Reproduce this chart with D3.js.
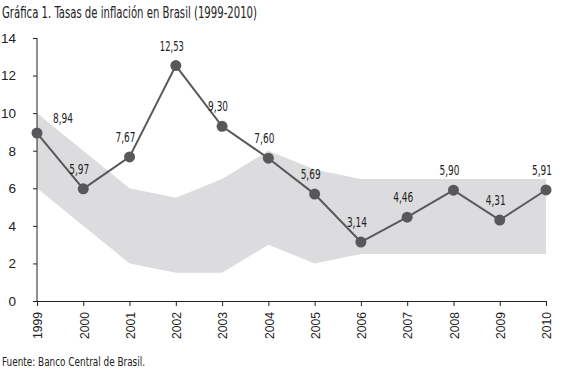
<!DOCTYPE html>
<html>
<head>
<meta charset="utf-8">
<script src="https://cdn.jsdelivr.net/npm/d3@7"></script>
<style>
  body { margin: 0; background: #fff; }
  svg { font-family: "Liberation Sans Narrow", "DejaVu Sans Condensed", sans-serif; font-stretch: condensed; }
  .axis path, .axis line { stroke: #222; }
  .axis text { fill: #222; font-size: 13.5px; }
</style>
</head>
<body>
<div id="chart"></div>
<script>
// Gráfica 1 - inflation in Brazil vs target band
const years = [1999, 2000, 2001, 2002, 2003, 2004, 2005, 2006, 2007, 2008, 2009, 2010];
const inflation = [8.94, 5.97, 7.67, 12.53, 9.30, 7.60, 5.69, 3.14, 4.46, 5.90, 4.31, 5.91];
const bandLow = [6, 4, 2, 1.5, 1.5, 3, 2, 2.5, 2.5, 2.5, 2.5, 2.5];
const bandHigh = [10, 8, 6, 5.5, 6.5, 8, 7, 6.5, 6.5, 6.5, 6.5, 6.5];
const yTicks = [0, 2, 4, 6, 8, 10, 12, 14];

const width = 563, height = 371;
const margin = [38, 70, 37, 17]; // top, bottom, left, right

const svg = d3.select('#chart')
    .append('svg')
    .attr('width', width)
    .attr('height', height);

const x = d3.scalePoint(years, [margin[2], width - margin[3]]);
const y = d3.scaleLinear([0, 14], [height - margin[1], margin[0]]);

const data = years.map((yr, i) => ({ yr, v: inflation[i], lo: bandLow[i], hi: bandHigh[i] }));

// target band
svg.append('path')
    .datum(data)
    .attr('fill', '#dcdcde')
    .attr('d', d3.area().x(d => x(d.yr)).y0(d => y(d.lo)).y1(d => y(d.hi)));

// axes
const yAxis = svg.append('g')
    .attr('class', 'axis')
    .attr('transform', `translate(${margin[2]},0)`)
    .call(d3.axisLeft(y).tickValues(yTicks).tickSize(4).tickSizeOuter(0).tickPadding(17).tickFormat(d3.format('d')));
yAxis.select('.domain').attr('d', `M0,${y(0)}V${y(14)}`);

const xAxis = svg.append('g')
    .attr('class', 'axis')
    .attr('transform', `translate(0,${y(0)})`)
    .call(d3.axisBottom(x).tickSize(5).tickSizeOuter(0));
xAxis.selectAll('text')
    .attr('transform', 'rotate(-90)')
    .attr('text-anchor', 'end')
    .attr('x', -11)
    .attr('y', 0)
    .attr('dy', '0.35em')
    .attr('textLength', 27)
    .attr('lengthAdjust', 'spacingAndGlyphs');

// inflation line
svg.append('path')
    .datum(data)
    .attr('fill', 'none')
    .attr('stroke', '#58585a')
    .attr('stroke-width', 2)
    .attr('d', d3.line().x(d => x(d.yr)).y(d => y(d.v)));

svg.selectAll('circle.pt')
    .data(data)
    .join('circle')
    .attr('class', 'pt')
    .attr('cx', d => x(d.yr))
    .attr('cy', d => y(d.v))
    .attr('r', 5.5)
    .attr('fill', '#58585a');

// value labels, first one sits to the right of the point
svg.selectAll('text.lbl')
    .data(data)
    .join('text')
    .attr('class', 'lbl')
    .attr('x', (d, i) => x(d.yr) + (i === 0 ? 26 : -4))
    .attr('y', (d, i) => y(d.v) - (i === 0 ? 10 : 15))
    .attr('text-anchor', 'middle')
    .attr('font-size', 14)
    .attr('fill', '#222')
    .attr('textLength', d => d.v >= 10 ? 24 : 20)
    .attr('lengthAdjust', 'spacingAndGlyphs')
    .text(d => d.v.toFixed(2).replace('.', ','));

svg.append('text')
    .attr('x', 2).attr('y', 18)
    .attr('font-size', 15.5)
    .attr('fill', '#222')
    .attr('textLength', 255)
    .attr('lengthAdjust', 'spacingAndGlyphs')
    .text('Gráfica 1. Tasas de inflación en Brasil (1999-2010)');

svg.append('text')
    .attr('x', 2).attr('y', 366)
    .attr('font-size', 13)
    .attr('fill', '#222')
    .attr('textLength', 143)
    .attr('lengthAdjust', 'spacingAndGlyphs')
    .text('Fuente: Banco Central de Brasil.');
</script>
</body>
</html>
